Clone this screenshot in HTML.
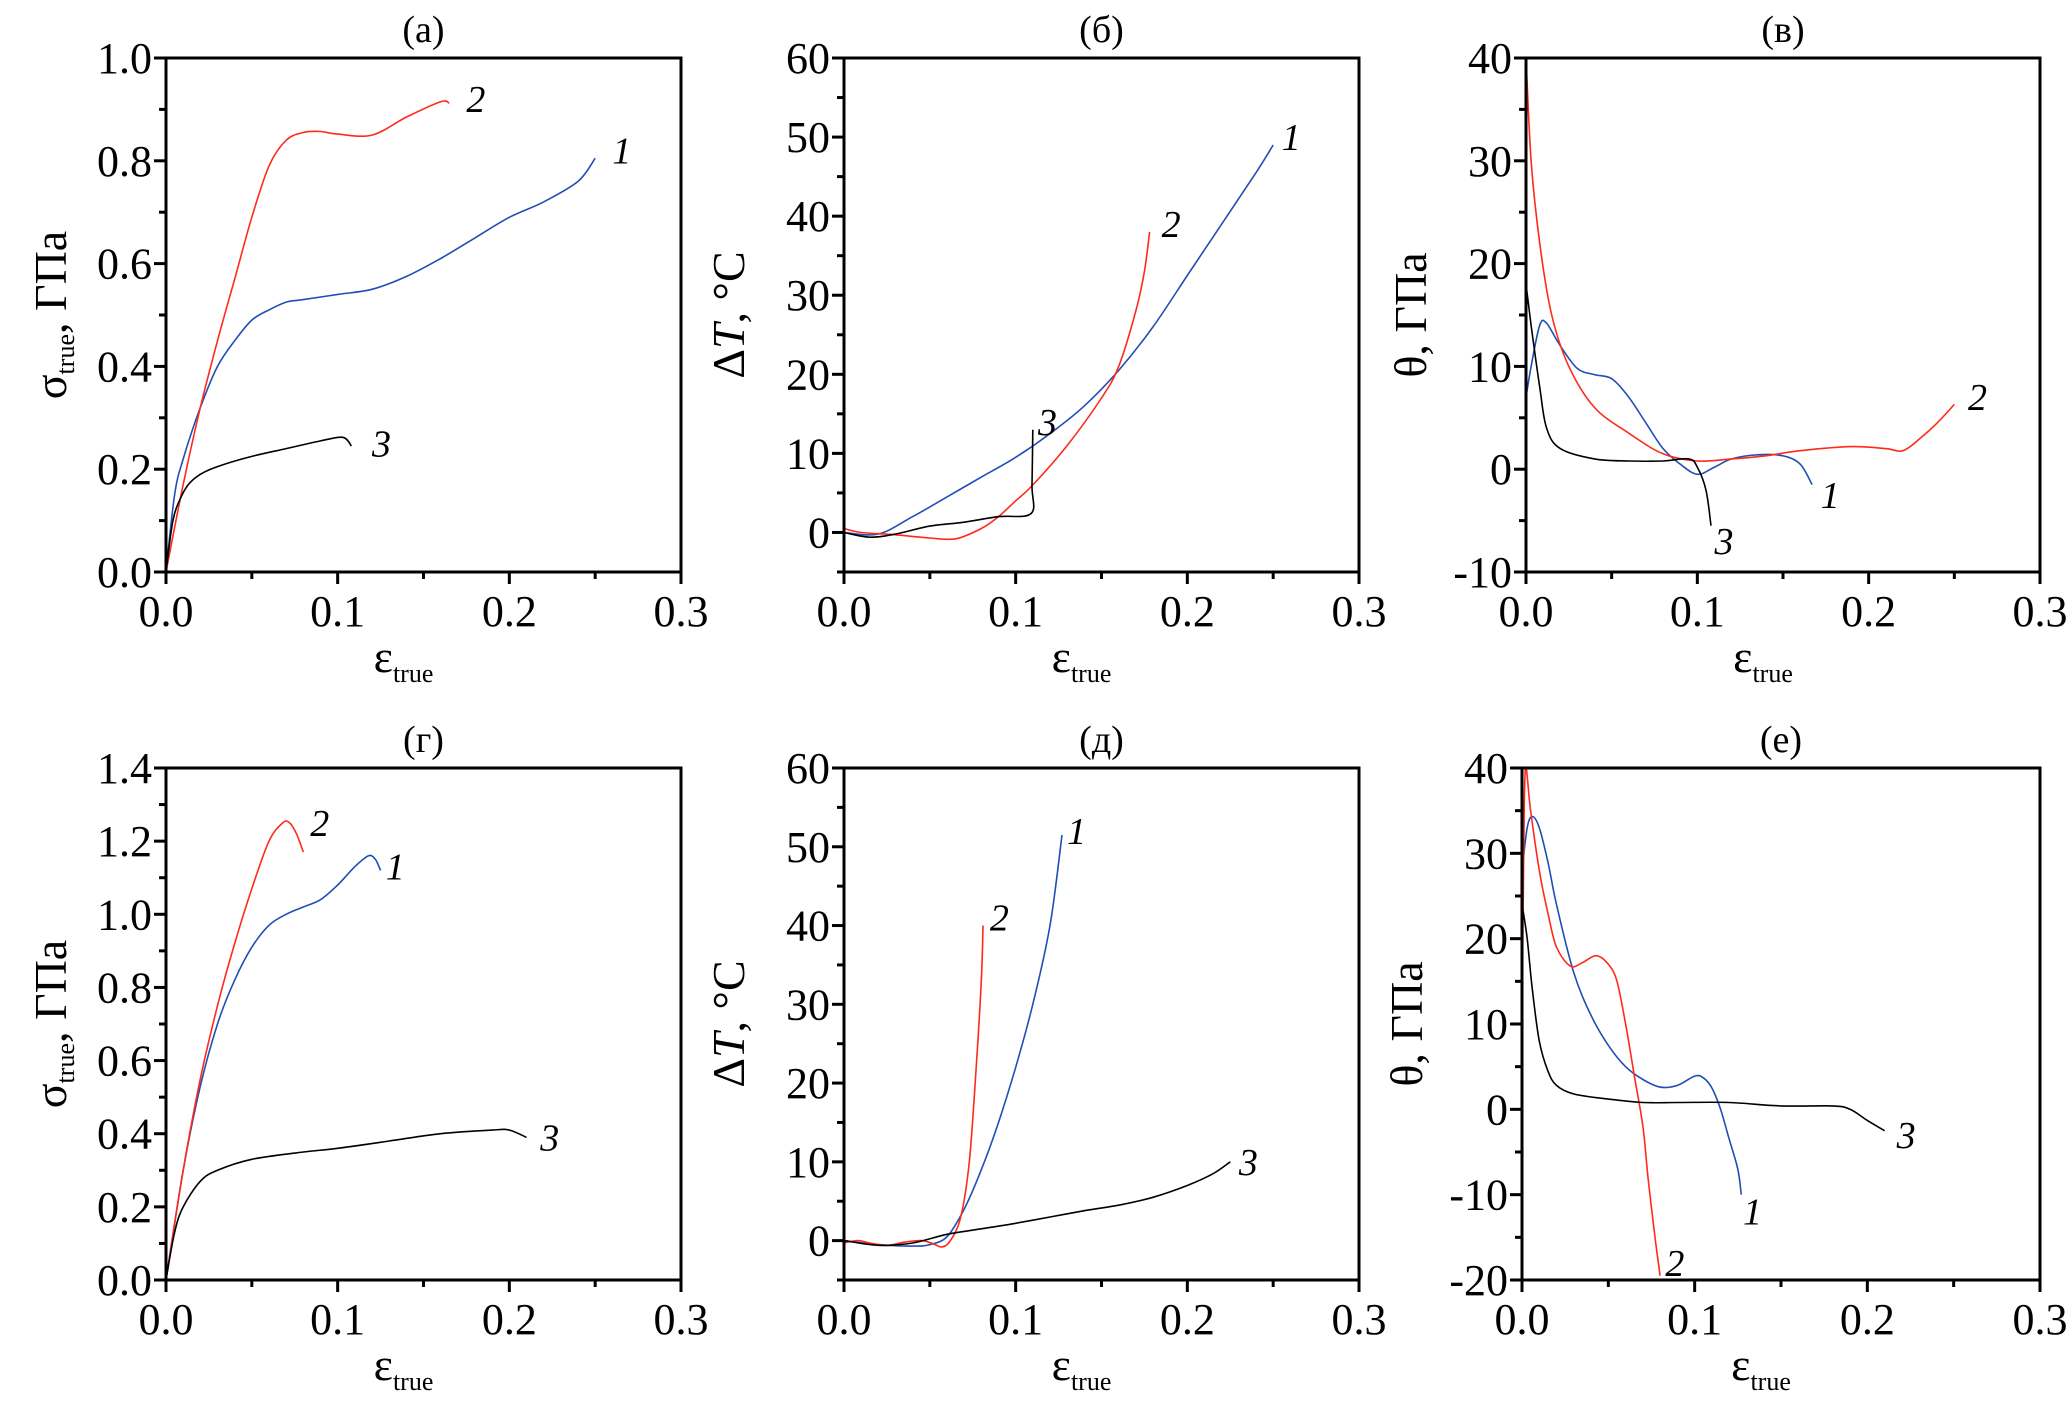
<!DOCTYPE html>
<html><head><meta charset="utf-8"><style>
html,body{margin:0;padding:0;background:#fff;}
svg, svg text{font-family:"Liberation Serif","Times New Roman",serif;}
</style></head><body>
<svg id="fig" width="2067" height="1397" viewBox="0 0 2067 1397" xmlns="http://www.w3.org/2000/svg" font-family="Liberation Serif, serif"></svg>
<script>
const xTicks = [0.0, 0.1, 0.2, 0.3];
const xTickLabels = ["0.0", "0.1", "0.2", "0.3"];

const aX1 = [0,0.005,0.01,0.02,0.03,0.04,0.05,0.06,0.07,0.08,0.1,0.12,0.14,0.16,0.18,0.2,0.22,0.24,0.25];
const aY1 = [0,0.15,0.22,0.32,0.40,0.45,0.49,0.51,0.525,0.53,0.54,0.55,0.575,0.61,0.65,0.69,0.72,0.76,0.805];
const aX2 = [0,0.01,0.02,0.03,0.04,0.05,0.06,0.07,0.08,0.09,0.1,0.12,0.14,0.16,0.165];
const aY2 = [0,0.17,0.32,0.45,0.57,0.69,0.79,0.84,0.855,0.857,0.852,0.85,0.885,0.915,0.912];
const aX3 = [0,0.004,0.008,0.013,0.02,0.03,0.05,0.07,0.09,0.103,0.108];
const aY3 = [0,0.1,0.14,0.17,0.19,0.205,0.225,0.24,0.255,0.262,0.245];

const bX1 = [0,0.02,0.04,0.06,0.08,0.1,0.12,0.14,0.16,0.18,0.2,0.22,0.24,0.25];
const bY1 = [0,-0.2,2,4.5,7,9.5,12.5,16,20.5,26,32.5,39,45.5,49];
const bX2 = [0,0.01,0.03,0.05,0.065,0.08,0.09,0.1,0.11,0.13,0.15,0.16,0.17,0.175,0.178];
const bY2 = [0.5,0,-0.3,-0.7,-0.8,0.5,2,4,6,11,17,21,28,33,38];
const bX3 = [0,0.015,0.03,0.05,0.07,0.09,0.109,0.1095,0.11];
const bY3 = [0,-0.6,-0.2,0.8,1.3,2,2.4,6,13];

const cX1 = [0,0.003,0.008,0.012,0.02,0.03,0.04,0.05,0.06,0.07,0.08,0.09,0.1,0.11,0.12,0.135,0.15,0.16,0.167];
const cY1 = [7,10,14,14.2,12,9.8,9.2,8.8,7,4.5,2,0.5,-0.5,0.2,1,1.4,1.3,0.5,-1.5];
const cX2 = [0,0.003,0.008,0.015,0.025,0.04,0.06,0.08,0.1,0.12,0.14,0.16,0.19,0.21,0.22,0.23,0.24,0.25];
const cY2 = [40,30,22,15,10,6,3.5,1.5,0.8,1,1.3,1.8,2.2,2,1.8,3,4.5,6.3];
const cX3 = [0,0.003,0.008,0.012,0.02,0.04,0.06,0.08,0.095,0.1,0.105,0.108];
const cY3 = [18,14,8,4,2,1,0.8,0.8,1,0.2,-2,-5.5];

const dX1 = [0,0.01,0.02,0.03,0.04,0.05,0.06,0.07,0.08,0.09,0.1,0.11,0.118,0.122,0.125];
const dY1 = [0,0.3,0.53,0.7,0.82,0.91,0.97,1.0,1.02,1.04,1.08,1.13,1.16,1.15,1.12];
const dX2 = [0,0.01,0.02,0.03,0.04,0.05,0.06,0.068,0.072,0.076,0.08];
const dY2 = [0,0.3,0.55,0.75,0.92,1.07,1.2,1.25,1.25,1.22,1.17];
const dX3 = [0,0.005,0.01,0.02,0.03,0.05,0.08,0.1,0.13,0.16,0.19,0.2,0.21];
const dY3 = [0,0.13,0.2,0.27,0.3,0.33,0.35,0.36,0.38,0.4,0.41,0.41,0.39];

const eX1 = [0,0.02,0.04,0.05,0.06,0.07,0.08,0.09,0.1,0.11,0.12,0.127];
const eY1 = [0,-0.5,-0.7,-0.5,0.5,4,9,15,22,30,40,51.5];
const eX2 = [0,0.008,0.015,0.025,0.035,0.045,0.052,0.057,0.062,0.068,0.073,0.077,0.08,0.081];
const eY2 = [-0.3,0,-0.3,-0.6,-0.2,0,-0.4,-0.8,0,3,10,22,33,40];
const eX3 = [0,0.02,0.04,0.06,0.08,0.1,0.12,0.14,0.16,0.18,0.2,0.215,0.225];
const eY3 = [0,-0.6,-0.3,0.8,1.5,2.2,3,3.8,4.5,5.5,7,8.5,10];

const fX1 = [0,0.003,0.006,0.01,0.015,0.02,0.03,0.04,0.05,0.06,0.07,0.08,0.09,0.1,0.105,0.11,0.115,0.12,0.125,0.127];
const fY1 = [28,33,34.3,33,29,24,16,11,7.5,5,3.5,2.6,2.8,3.9,3.7,2.5,0,-3.5,-7,-10];
const fX2 = [0,0.001,0.002,0.005,0.01,0.015,0.02,0.028,0.035,0.043,0.05,0.055,0.06,0.065,0.07,0.073,0.077,0.08];
const fY2 = [10,30,40,35,28,23,19,16.8,17.2,18,17,15,10,4,-2,-8,-15,-19.5];
const fX3 = [0,0.003,0.006,0.01,0.015,0.02,0.03,0.05,0.07,0.09,0.12,0.15,0.18,0.19,0.2,0.21];
const fY3 = [24,20,14,8,4.5,2.8,1.8,1.2,0.8,0.8,0.8,0.4,0.4,0,-1.3,-2.5];

const panels = [
 {id:"a", title:"(a)", L:166,R:681,T:58,B:572, ymin:0,ymax:1.0, yTicks:[0,0.2,0.4,0.6,0.8,1.0], yLab:["0.0","0.2","0.4","0.6","0.8","1.0"], yMinor:0.1, ylabel:"sigma",
  series:[[aX1,aY1,"#1f4fb5","1",0.26,0.82],[aX2,aY2,"#ff2a1a","2",0.175,0.92],[aX3,aY3,"#000","3",0.12,0.25]]},
 {id:"b", title:"(б)", L:844,R:1359,T:58,B:572, ymin:-5,ymax:60, yTicks:[0,10,20,30,40,50,60], yLab:["0","10","20","30","40","50","60"], yMinor:5, ylabel:"dT",
  series:[[bX1,bY1,"#1f4fb5","1",0.255,50],[bX2,bY2,"#ff2a1a","2",0.185,39],[bX3,bY3,"#000","3",0.113,14]]},
 {id:"c", title:"(в)", L:1526,R:2040,T:58,B:572, ymin:-10,ymax:40, yTicks:[-10,0,10,20,30,40], yLab:["-10","0","10","20","30","40"], yMinor:5, ylabel:"theta",
  series:[[cX1,cY1,"#1f4fb5","1",0.172,-2.5],[cX2,cY2,"#ff2a1a","2",0.258,7],[cX3,cY3,"#000","3",0.11,-7]]},
 {id:"d", title:"(г)", L:166,R:681,T:768,B:1280, ymin:0,ymax:1.4, yTicks:[0,0.2,0.4,0.6,0.8,1.0,1.2,1.4], yLab:["0.0","0.2","0.4","0.6","0.8","1.0","1.2","1.4"], yMinor:0.1, ylabel:"sigma",
  series:[[dX1,dY1,"#1f4fb5","1",0.128,1.13],[dX2,dY2,"#ff2a1a","2",0.084,1.25],[dX3,dY3,"#000","3",0.218,0.39]]},
 {id:"e", title:"(д)", L:844,R:1359,T:768,B:1280, ymin:-5,ymax:60, yTicks:[0,10,20,30,40,50,60], yLab:["0","10","20","30","40","50","60"], yMinor:5, ylabel:"dT",
  series:[[eX1,eY1,"#1f4fb5","1",0.13,52],[eX2,eY2,"#ff2a1a","2",0.085,41],[eX3,eY3,"#000","3",0.23,10]]},
 {id:"f", title:"(е)", L:1522,R:2040,T:768,B:1280, ymin:-20,ymax:40, yTicks:[-20,-10,0,10,20,30,40], yLab:["-20","-10","0","10","20","30","40"], yMinor:5, ylabel:"theta",
  series:[[fX1,fY1,"#1f4fb5","1",0.128,-12],[fX2,fY2,"#ff2a1a","2",0.083,-18],[fX3,fY3,"#000","3",0.217,-3]]}
];

const NS="http://www.w3.org/2000/svg";
const FF="Liberation Serif, serif";
const svg=document.getElementById("fig");
function mk(tag,attrs,parent){const e=document.createElementNS(NS,tag);for(const k in attrs)e.setAttribute(k,attrs[k]);(parent||svg).appendChild(e);return e;}
function smooth(pts){
  let d="M"+pts[0][0].toFixed(1)+","+pts[0][1].toFixed(1);
  for(let i=0;i<pts.length-1;i++){
    const p0=pts[i-1]||pts[i],p1=pts[i],p2=pts[i+1],p3=pts[i+2]||p2;
    const c1=[p1[0]+(p2[0]-p0[0])/6,p1[1]+(p2[1]-p0[1])/6];
    const c2=[p2[0]-(p3[0]-p1[0])/6,p2[1]-(p3[1]-p1[1])/6];
    d+=" C"+c1[0].toFixed(1)+","+c1[1].toFixed(1)+" "+c2[0].toFixed(1)+","+c2[1].toFixed(1)+" "+p2[0].toFixed(1)+","+p2[1].toFixed(1);
  }
  return d;
}
panels.forEach(p=>{
  const g=mk("g",{});
  
  
  const sx=v=>p.L+(v-0)/0.3*(p.R-p.L);
  const sy=v=>p.B-(v-p.ymin)/(p.ymax-p.ymin)*(p.B-p.T);
  p.series.forEach((s,i)=>{
    const pts=s[0].map((x,k)=>[sx(x),sy(s[1][k])]);
    const path=mk("path",{d:smooth(pts),fill:"none",stroke:s[2],"stroke-width":1.6},g);
    
    
    const t=mk("text",{x:sx(s[4]),y:sy(s[5])+13,"font-size":38,"font-style":"italic","font-family":FF},g);
    t.textContent=s[3];
    
    
  });
  const fr=mk("rect",{x:p.L,y:p.T,width:p.R-p.L,height:p.B-p.T,fill:"none",stroke:"#000","stroke-width":3},g);
  
  
  for(let v=0;v<=0.3001;v+=0.05){
    const major=Math.abs(v*10-Math.round(v*10))<1e-6;
    mk("line",{x1:sx(v),x2:sx(v),y1:p.B,y2:p.B+(major?12:7),stroke:"#000","stroke-width":3},g);
  }
  xTicks.forEach((v,i)=>{
    const t=mk("text",{x:sx(v),y:p.B+54,"font-size":44,"text-anchor":"middle","font-family":FF},g);
    t.textContent=xTickLabels[i];
    
    
  });
  for(let v=p.ymin;v<=p.ymax+1e-9;v+=p.yMinor){
    const major=p.yTicks.some(t=>Math.abs(t-v)<1e-6);
    mk("line",{x1:p.L,x2:p.L-(major?12:7),y1:sy(v),y2:sy(v),stroke:"#000","stroke-width":3},g);
  }
  p.yTicks.forEach((v,i)=>{
    const t=mk("text",{x:p.L-14,y:sy(v)+15,"font-size":44,"text-anchor":"end","font-family":FF},g);
    t.textContent=p.yLab[i];
    
    
  });
  const tt=mk("text",{x:(p.L+p.R)/2,y:p.T-16,"font-size":38,"text-anchor":"middle","font-family":FF},g);
  tt.textContent=p.title;
  
  
  const xl=mk("text",{x:(p.L+p.R)/2-20,y:p.B+100,"font-size":46,"text-anchor":"middle","font-family":FF},g);
  xl.innerHTML='ε<tspan font-size="26" dy="10">true</tspan>';
  
  
  const cx=p.L-100, cy=(p.T+p.B)/2;
  const yl=mk("text",{x:cx,y:cy,"font-size":46,"text-anchor":"middle","font-family":FF,transform:"rotate(-90 "+cx+" "+cy+")"},g);
  if(p.ylabel==="sigma") yl.innerHTML='σ<tspan font-size="26" dy="8">true</tspan><tspan dy="-8">, ГПа</tspan>';
  else if(p.ylabel==="dT") yl.innerHTML='Δ<tspan font-style="italic">T</tspan>, °C';
  else yl.textContent='θ, ГПа';
  
  
});
</script>
</body></html>
